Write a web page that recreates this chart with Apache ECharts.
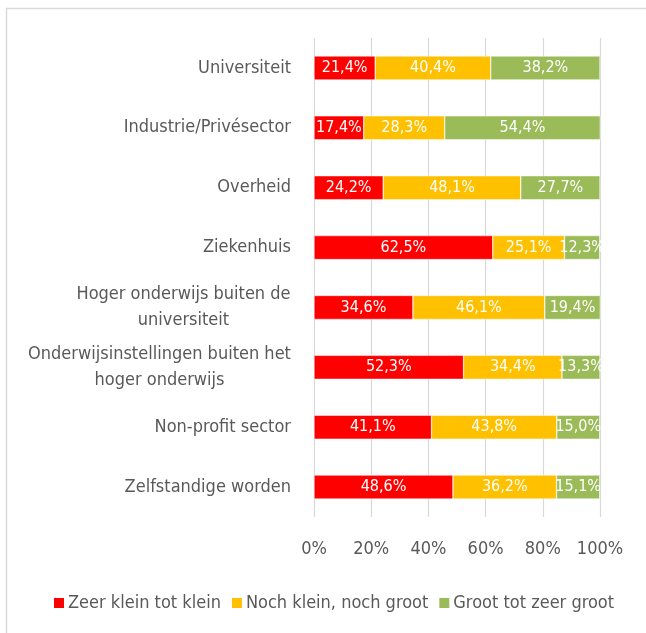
<!DOCTYPE html>
<html>
<head>
<meta charset="utf-8">
<script src="https://cdn.jsdelivr.net/npm/echarts@6/dist/echarts.min.js"></script>
<style>
html,body{margin:0;padding:0;background:#fff;}
#chart{width:646px;height:633px;}
</style>
</head>
<body>
<div id="chart"></div>
<script>
const categories = [
  "Universiteit",
  "Industrie/Privésector",
  "Overheid",
  "Ziekenhuis",
  "Hoger onderwijs buiten de\nuniversiteit",
  "Onderwijsinstellingen buiten het\nhoger onderwijs",
  "Non-profit sector",
  "Zelfstandige worden"
];
const seriesNames = ["Zeer klein tot klein", "Noch klein, noch groot", "Groot tot zeer groot"];
const zeerKleinTotKlein = [21.4, 17.4, 24.2, 62.5, 34.6, 52.3, 41.1, 48.6];
const nochKleinNochGroot = [40.4, 28.3, 48.1, 25.1, 46.1, 34.4, 43.8, 36.2];
const grootTotZeerGroot = [38.2, 54.4, 27.7, 12.3, 19.4, 13.3, 15.0, 15.1];
const xTicks = [0, 20, 40, 60, 80, 100];

const FONT = '"DejaVu Sans Condensed", "Liberation Sans Narrow", "Roboto", sans-serif';
const FS = 18;
const colors = ["#FF0000", "#FFC000", "#9BBB59"];

const ctx = document.createElement('canvas').getContext('2d');
ctx.font = FS + 'px ' + FONT;
function labelFmt(v) {
  const lines = v.split('\n');
  if (lines.length === 1) return v;
  const w = Math.ceil(Math.max(...lines.map(l => ctx.measureText(l).width)));
  return lines.map(l => '{c' + w + '|' + l + '}').join('\n');
}
const rich = {};
categories.forEach(c => {
  const lines = c.split('\n');
  if (lines.length > 1) {
    const w = Math.ceil(Math.max(...lines.map(l => ctx.measureText(l).width)));
    rich['c' + w] = { width: w, align: 'center', fontSize: FS, fontFamily: FONT, color: '#595959', lineHeight: 26 };
  }
});

const dataSets = [zeerKleinTotKlein, nochKleinNochGroot, grootTotZeerGroot];
const chart = echarts.init(document.getElementById('chart'), null, { renderer: 'canvas' });
chart.setOption({
  animation: false,
  backgroundColor: '#fff',
  textStyle: { fontFamily: FONT },
  graphic: [{
    type: 'rect',
    shape: { x: 6.5, y: 8.5, width: 700, height: 700 },
    style: { fill: 'none', stroke: '#d9d9d9', lineWidth: 1.5 },
    silent: true
  }],
  grid: { left: 314, right: 46, top: 38, bottom: 116, containLabel: false },
  legend: {
    data: seriesNames,
    left: 47,
    top: 589,
    itemWidth: 12,
    itemHeight: 12,
    itemGap: 9,
    icon: 'rect',
    textStyle: { fontSize: FS, color: '#595959', fontFamily: FONT, padding: [0, 0, 0, -2] }
  },
  xAxis: {
    type: 'value',
    min: 0,
    max: 100,
    interval: 20,
    axisLine: { show: false },
    axisTick: { show: false },
    splitLine: { show: true, lineStyle: { color: '#d9d9d9', width: 1.2 } },
    axisLabel: {
      fontSize: FS, color: '#595959', fontFamily: FONT, margin: 23,
      formatter: v => xTicks.includes(v) ? v + '%' : ''
    }
  },
  yAxis: {
    type: 'category',
    inverse: true,
    data: categories,
    axisLine: { show: false },
    axisTick: { show: false },
    axisLabel: {
      fontSize: FS, color: '#595959', fontFamily: FONT, margin: 23, lineHeight: 26,
      formatter: labelFmt, rich: rich
    }
  },
  series: dataSets.map((d, i) => ({
    name: seriesNames[i],
    type: 'bar',
    stack: 'total',
    data: d,
    barWidth: 24,
    itemStyle: { color: colors[i], borderColor: '#ffffff', borderWidth: 0.5 },
    label: {
      show: true,
      position: 'inside',
      color: '#ffffff',
      fontSize: 16,
      fontFamily: FONT,
      formatter: p => p.value.toFixed(1).replace('.', ',') + '%'
    }
  }))
});
</script>
</body>
</html>
